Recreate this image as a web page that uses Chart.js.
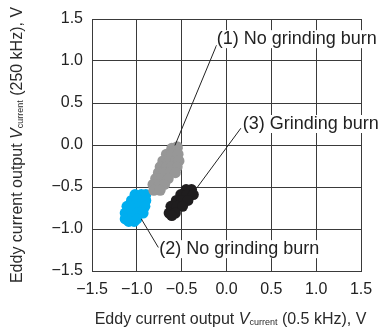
<!DOCTYPE html>
<html>
<head>
<meta charset="utf-8">
<script src="https://cdn.jsdelivr.net/npm/chart.js@4"></script>
<style>
  html, body { margin: 0; padding: 0; background: #fff; }
  #wrap { width: 386px; height: 329px; }
</style>
</head>
<body>
<div id="wrap"><canvas id="eddyChart"></canvas></div>
<script>
// Axis ticks
const tickValues = [-1.5, -1.0, -0.5, 0.0, 0.5, 1.0, 1.5];
const tickLabels = ["\u22121.5", "\u22121.0", "\u22120.5", "0.0", "0.5", "1.0", "1.5"];

// (1) No grinding burn - grey cloud [x (0.5 kHz), y (250 kHz)]
const noBurn1 = [
  [-0.55, -0.02], [-0.61, -0.04], [-0.55, -0.04],
  [-0.67, -0.11], [-0.61, -0.11], [-0.54, -0.11],
  [-0.71, -0.19], [-0.64, -0.19], [-0.57, -0.19], [-0.53, -0.19],
  [-0.74, -0.26], [-0.67, -0.26], [-0.61, -0.26], [-0.55, -0.26],
  [-0.76, -0.33], [-0.70, -0.33], [-0.63, -0.33], [-0.57, -0.33],
  [-0.79, -0.40], [-0.72, -0.40], [-0.65, -0.40],
  [-0.82, -0.47], [-0.75, -0.47], [-0.69, -0.47],
  [-0.81, -0.54], [-0.74, -0.54]
];

// (2) No grinding burn - blue cloud
const noBurn2 = [
  [-1.02, -0.59], [-0.95, -0.59], [-0.90, -0.59],
  [-1.06, -0.66], [-1.00, -0.66], [-0.93, -0.66], [-0.90, -0.66],
  [-1.11, -0.73], [-1.04, -0.73], [-0.97, -0.73], [-0.91, -0.73],
  [-1.13, -0.81], [-1.06, -0.81], [-1.00, -0.81], [-0.93, -0.81],
  [-1.13, -0.88], [-1.06, -0.88], [-1.00, -0.88],
  [-1.09, -0.91], [-1.03, -0.91]
];

// (3) Grinding burn - black cloud
const burn3 = [
  [-0.45, -0.53], [-0.39, -0.53],
  [-0.51, -0.59], [-0.44, -0.59], [-0.37, -0.59],
  [-0.56, -0.66], [-0.50, -0.66], [-0.43, -0.66],
  [-0.62, -0.73], [-0.55, -0.73], [-0.49, -0.73],
  [-0.64, -0.81], [-0.57, -0.81],
  [-0.61, -0.84]
];

// callout texts with text anchor and leader line (data units)
const callouts = [
  { text: "(1) No grinding burn", at: [-0.11, 1.26], line: [[-0.11, 1.19], [-0.575, -0.005]] },
  { text: "(3) Grinding burn", at: [0.18, 0.25], line: [[0.16, 0.20], [-0.33, -0.51]] },
  { text: "(2) No grinding burn", at: [-0.75, -1.24], line: [[-0.95, -0.88], [-0.76, -1.22]] }
];

const FONT = "'Liberation Sans', Arial, Helvetica, sans-serif";
const toXY = arr => arr.map(p => ({ x: p[0], y: p[1] }));

// draws "Eddy current output V_current (...), V" with italic V and small subscript
function drawAxisTitle(ctx, suffix, cx, cy, rotate) {
  const parts = [
    { t: "Eddy current output ", f: "16px " + FONT, dy: 0 },
    { t: "V", f: "italic 16px " + FONT, dy: 0 },
    { t: "current", f: "9px " + FONT, dy: 3 },
    { t: suffix, f: "16px " + FONT, dy: 0 }
  ];
  ctx.save();
  let total = 0;
  parts.forEach(p => { ctx.font = p.f; p.w = ctx.measureText(p.t).width; total += p.w; });
  ctx.translate(cx, cy);
  if (rotate) ctx.rotate(-Math.PI / 2);
  ctx.fillStyle = "#2a2a2a";
  ctx.textBaseline = "middle";
  ctx.textAlign = "left";
  let x = -total / 2;
  parts.forEach(p => {
    ctx.font = p.f;
    ctx.fillText(p.t, x, p.dy);
    x += p.w;
  });
  ctx.restore();
}

const labelPlugin = {
  id: "labels",
  afterDraw(chart) {
    const ctx = chart.ctx;
    const xs = chart.scales.x, ys = chart.scales.y;
    const area = chart.chartArea;

    // leader lines + callout texts
    callouts.forEach(c => {
      ctx.save();
      ctx.strokeStyle = "#222";
      ctx.lineWidth = 1;
      ctx.beginPath();
      ctx.moveTo(xs.getPixelForValue(c.line[0][0]), ys.getPixelForValue(c.line[0][1]));
      ctx.lineTo(xs.getPixelForValue(c.line[1][0]), ys.getPixelForValue(c.line[1][1]));
      ctx.stroke();

      ctx.font = "18px " + FONT;
      ctx.textBaseline = "middle";
      const tx = xs.getPixelForValue(c.at[0]);
      const ty = ys.getPixelForValue(c.at[1]);
      const w = ctx.measureText(c.text).width;
      ctx.fillStyle = "#fff";
      ctx.fillRect(tx, ty - 9, w + 2, 18);
      ctx.fillStyle = "#222";
      ctx.fillText(c.text, tx, ty);
      ctx.restore();
    });

    // axis titles
    drawAxisTitle(ctx, " (0.5 kHz), V", (area.left + area.right) / 2 + 4, 320, false);
    drawAxisTitle(ctx, " (250 kHz), V", 18, (area.top + area.bottom) / 2, true);
  }
};

const gridStyle = { color: "#3a3a3a", lineWidth: 1, drawTicks: false };

new Chart(document.getElementById("eddyChart"), {
  type: "scatter",
  data: {
    datasets: [
      { label: "(1) No grinding burn", data: toXY(noBurn1), backgroundColor: "#979797" },
      { label: "(2) No grinding burn", data: toXY(noBurn2), backgroundColor: "#00aeef" },
      { label: "(3) Grinding burn", data: toXY(burn3), backgroundColor: "#1f1d1e" }
    ]
  },
  options: {
    responsive: true,
    maintainAspectRatio: false,
    animation: false,
    layout: { padding: { top: 19, right: 25, left: 0, bottom: 0 } },
    elements: { point: { radius: 5.5, borderWidth: 0, hoverRadius: 5.5 } },
    plugins: { legend: { display: false }, tooltip: { enabled: false } },
    scales: {
      x: {
        type: "linear",
        min: -1.5,
        max: 1.5,
        afterBuildTicks: s => { s.ticks = tickValues.map(v => ({ value: v })); },
        afterFit: s => { s.height = 58; },
        grid: gridStyle,
        border: { color: "#3a3a3a", width: 1 },
        ticks: {
          padding: 9,
          color: "#222",
          font: { family: FONT, size: 16 },
          maxRotation: 0,
          callback: (v, i) => tickLabels[i]
        }
      },
      y: {
        type: "linear",
        min: -1.5,
        max: 1.5,
        afterBuildTicks: s => { s.ticks = tickValues.map(v => ({ value: v })); },
        afterFit: s => { s.width = 92; },
        grid: gridStyle,
        border: { color: "#3a3a3a", width: 1 },
        ticks: {
          padding: 9,
          color: "#222",
          font: { family: FONT, size: 16 },
          callback: (v, i) => tickLabels[i]
        }
      }
    }
  },
  plugins: [labelPlugin]
});
</script>
</body>
</html>
